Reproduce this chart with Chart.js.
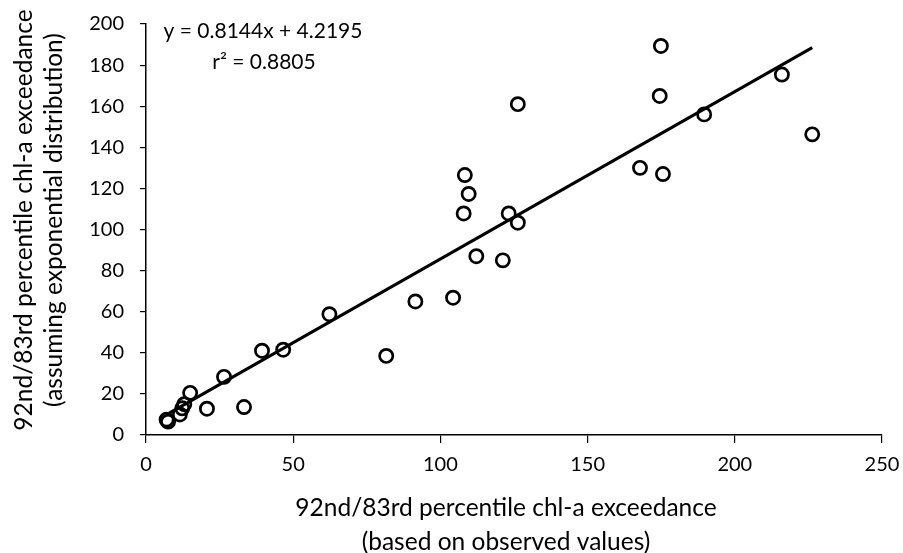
<!DOCTYPE html>
<html>
<head>
<meta charset="utf-8">
<script src="https://cdn.jsdelivr.net/npm/chart.js@4"></script>
<style>
  html, body { margin: 0; padding: 0; background: #fff; }
  #wrap { width: 903px; height: 553px; }
</style>
</head>
<body>
<div id="wrap"><canvas id="chart" width="903" height="553"></canvas></div>
<script>
// observed-value exceedance (x) vs exponential-distribution exceedance (y)
const obsX = [7, 7.5, 11.5, 12.3, 13, 15, 20.7, 26.5, 33.3, 39.4, 46.6, 62.3, 81.6, 91.5, 104.3,
              112.2, 121.2, 126.3, 108.3, 109.6, 107.9, 123.2, 126.3, 174.9, 174.5, 189.6, 216, 226.3, 167.8, 175.6];
const expY = [7.5, 6.5, 10, 13, 15, 20.5, 12.8, 28.3, 13.6, 41, 41.5, 58.8, 38.5, 65, 66.8,
              87, 85, 161, 126.5, 117.3, 107.8, 107.8, 103.3, 189.3, 165, 156, 175.4, 146.3, 130, 127];

const slope = 0.8144;
const intercept = 4.2195;
const fitX = [7, 226.3];
const eqText = 'y = 0.8144x + 4.2195';
const r2Text = 'r² = 0.8805';

const xTicks = [0, 50, 100, 150, 200, 250];
const yTicks = [0, 20, 40, 60, 80, 100, 120, 140, 160, 180, 200];

const xTitle = ['92nd/83rd percentile chl-a exceedance', '(based on observed values)'];
const yTitle = ['92nd/83rd percentile chl-a exceedance', '(assuming exponential distribution)'];

const FONT = 'Lato, "Open Sans", sans-serif';

const fitLine = fitX.map(x => ({ x, y: slope * x + intercept }));
const points = obsX.map((x, i) => ({ x, y: expY[i] }));

// equation + axis titles (Excel style, centred a bit off the plot centre)
const textPlugin = {
  id: 'texts',
  afterDraw(chart) {
    const { ctx } = chart;
    ctx.save();
    ctx.fillStyle = '#000';
    ctx.textAlign = 'center';
    ctx.textBaseline = 'middle';

    ctx.font = '21px ' + FONT;
    ctx.fillText(eqText, 263, 31);
    ctx.fillText(r2Text, 264, 62);

    ctx.font = '24.5px ' + FONT;
    ctx.fillText(xTitle[0], 506, 508);
    ctx.fillText(xTitle[1], 506, 542);

    ctx.translate(0, 220);
    ctx.rotate(-Math.PI / 2);
    ctx.fillText(yTitle[0], 0, 24);
    ctx.fillText(yTitle[1], 0, 54);
    ctx.restore();
  }
};

new Chart(document.getElementById('chart'), {
  type: 'scatter',
  data: {
    datasets: [
      {
        label: 'data',
        data: points,
        pointStyle: 'circle',
        pointRadius: 6.6,
        pointBorderWidth: 2.7,
        borderColor: '#000',
        backgroundColor: 'rgba(0,0,0,0)',
        order: 1
      },
      {
        label: 'fit',
        type: 'line',
        data: fitLine,
        borderColor: '#000',
        borderWidth: 3,
        pointRadius: 0,
        fill: false,
        order: 2
      }
    ]
  },
  options: {
    responsive: false,
    animation: false,
    layout: { padding: { top: 24, right: 21, left: 0, bottom: 0 } },
    plugins: { legend: { display: false }, tooltip: { enabled: false } },
    scales: {
      x: {
        type: 'linear',
        min: 0, max: 250,
        afterBuildTicks: s => { s.ticks = xTicks.map(v => ({ value: v })); },
        afterFit: s => { s.height = 118; s.paddingLeft = 0; s.paddingRight = 0; },
        grid: { drawOnChartArea: false, drawTicks: true, tickLength: 8, color: '#000', lineWidth: 1.2 },
        border: { display: true, color: '#000', width: 1.5 },
        ticks: { color: '#000', font: { family: FONT, size: 20 }, padding: 10, maxRotation: 0 },
        title: { display: false }
      },
      y: {
        type: 'linear',
        min: 0, max: 200,
        afterBuildTicks: s => { s.ticks = yTicks.map(v => ({ value: v })); },
        afterFit: s => { s.width = 146; s.paddingTop = 0; s.paddingBottom = 0; },
        grid: { drawOnChartArea: false, drawTicks: true, tickLength: 6, color: '#000', lineWidth: 1.2 },
        border: { display: true, color: '#000', width: 1.5 },
        ticks: { color: '#000', font: { family: FONT, size: 20 }, padding: 16 },
        title: { display: false }
      }
    }
  },
  plugins: [textPlugin]
});
</script>
</body>
</html>
